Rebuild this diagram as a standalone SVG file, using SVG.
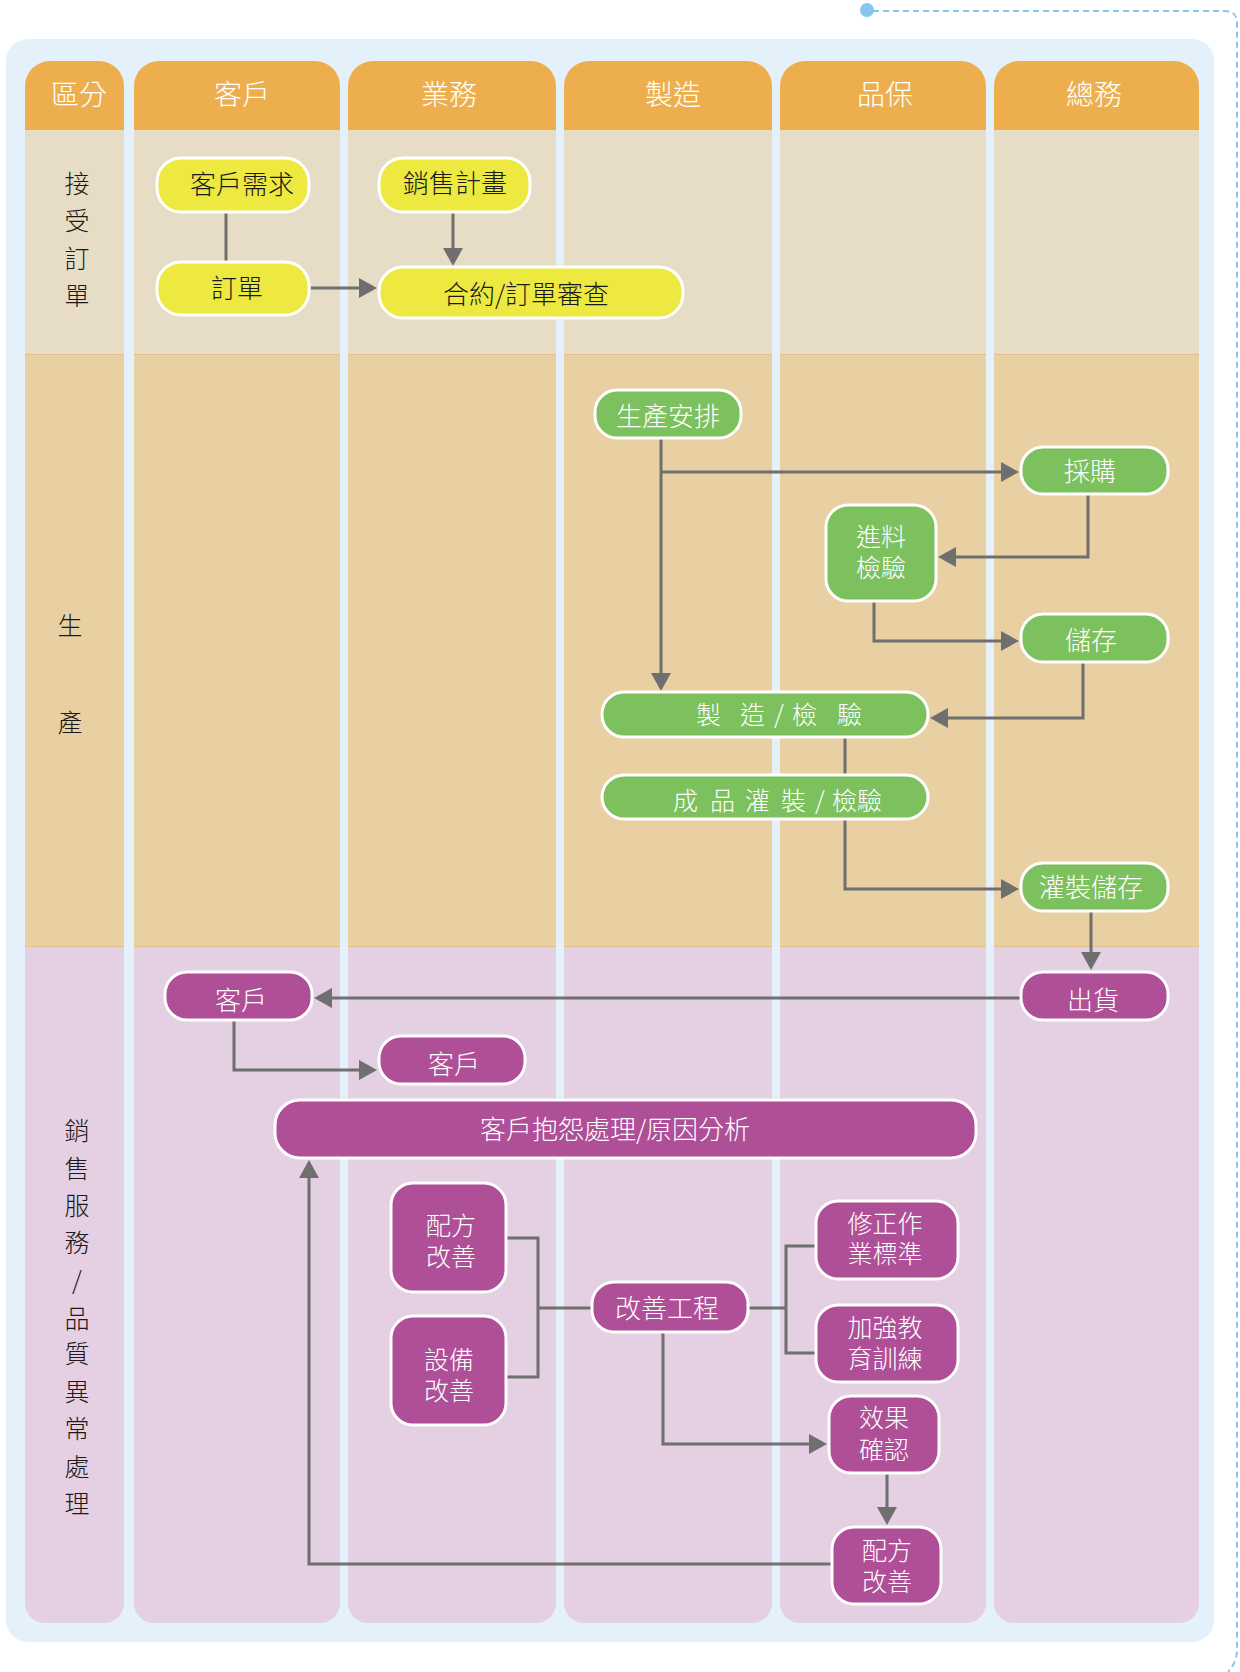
<svg xmlns="http://www.w3.org/2000/svg" width="1240" height="1672" viewBox="0 0 1240 1672">
<style>
.hdr{fill:#EDAF4D}
.r1{fill:#E7DDC6}
.r2{fill:#E8D0A2}
.r3{fill:#E5CFE3}
.sep{stroke:#E3C08C;stroke-width:1}
text{font-family:"Noto Sans CJK TC","Noto Sans CJK SC",sans-serif;font-weight:300;dominant-baseline:central}
.ht{font-size:28px;fill:#fff;text-anchor:middle}
.lb{font-size:25px;fill:#1a1a1a;text-anchor:middle}
.ny{fill:#EDE940;stroke:#fff;stroke-width:3}
.ng{fill:#7DC15E;stroke:#fff;stroke-width:3}
.np{fill:#AE4F97;stroke:#fff;stroke-width:3}
.tk{font-size:26px;fill:#1a1a1a;text-anchor:middle}
.tw{font-size:26px;fill:#fff;text-anchor:middle}
.tw2{font-size:25px;fill:#fff;text-anchor:middle}
.tws{font-size:25px;fill:#fff}
.ln{fill:none;stroke:#6F6F6F;stroke-width:3}
.ar{marker-end:url(#ah)}
</style>
<defs>
<marker id="ah" viewBox="0 0 18 20" refX="14" refY="10" markerWidth="18" markerHeight="20" markerUnits="userSpaceOnUse" orient="auto">
<path d="M0,0 L18,10 L0,20 Z" fill="#6F6F6F"/>
</marker>
</defs>
<rect width="1240" height="1672" fill="#fff"/>
<g id="deco">
<path d="M873,11 H1225 Q1237,11 1237,23 V1650 Q1237,1662 1228,1672" fill="none" stroke="#86C6EF" stroke-width="2" stroke-dasharray="6 4"/>
<circle cx="867" cy="10" r="7" fill="#86C6EF"/>
</g>
<rect id="panel" x="6" y="39" width="1208" height="1603" rx="22" fill="#E4F1FA"/>
<g id="lanes">
<path class="hdr" d="M25,130 V86 A25,25 0 0 1 50,61 H99 A25,25 0 0 1 124,86 V130 Z"/>
<rect class="r1" x="25" y="130" width="99" height="224"/>
<rect class="r2" x="25" y="354" width="99" height="592"/>
<path class="r3" d="M25,946 H124 V1603 A20,20 0 0 1 104,1623 H45 A20,20 0 0 1 25,1603 Z"/>
<path class="hdr" d="M134,130 V86 A25,25 0 0 1 159,61 H315 A25,25 0 0 1 340,86 V130 Z"/>
<rect class="r1" x="134" y="130" width="206" height="224"/>
<rect class="r2" x="134" y="354" width="206" height="592"/>
<path class="r3" d="M134,946 H340 V1603 A20,20 0 0 1 320,1623 H154 A20,20 0 0 1 134,1603 Z"/>
<path class="hdr" d="M348,130 V86 A25,25 0 0 1 373,61 H531 A25,25 0 0 1 556,86 V130 Z"/>
<rect class="r1" x="348" y="130" width="208" height="224"/>
<rect class="r2" x="348" y="354" width="208" height="592"/>
<path class="r3" d="M348,946 H556 V1603 A20,20 0 0 1 536,1623 H368 A20,20 0 0 1 348,1603 Z"/>
<path class="hdr" d="M564,130 V86 A25,25 0 0 1 589,61 H747 A25,25 0 0 1 772,86 V130 Z"/>
<rect class="r1" x="564" y="130" width="208" height="224"/>
<rect class="r2" x="564" y="354" width="208" height="592"/>
<path class="r3" d="M564,946 H772 V1603 A20,20 0 0 1 752,1623 H584 A20,20 0 0 1 564,1603 Z"/>
<path class="hdr" d="M780,130 V86 A25,25 0 0 1 805,61 H961 A25,25 0 0 1 986,86 V130 Z"/>
<rect class="r1" x="780" y="130" width="206" height="224"/>
<rect class="r2" x="780" y="354" width="206" height="592"/>
<path class="r3" d="M780,946 H986 V1603 A20,20 0 0 1 966,1623 H800 A20,20 0 0 1 780,1603 Z"/>
<path class="hdr" d="M994,130 V86 A25,25 0 0 1 1019,61 H1174 A25,25 0 0 1 1199,86 V130 Z"/>
<rect class="r1" x="994" y="130" width="205" height="224"/>
<rect class="r2" x="994" y="354" width="205" height="592"/>
<path class="r3" d="M994,946 H1199 V1603 A20,20 0 0 1 1179,1623 H1014 A20,20 0 0 1 994,1603 Z"/>
<path class="sep" d="M25,354.5 H124 M134,354.5 H340 M348,354.5 H556 M564,354.5 H772 M780,354.5 H986 M994,354.5 H1199 M25,946.5 H124 M134,946.5 H340 M348,946.5 H556 M564,946.5 H772 M780,946.5 H986 M994,946.5 H1199"/>
<text class="ht" x="79" y="93">區分</text>
<text class="ht" x="242" y="93">客戶</text>
<text class="ht" x="449" y="93">業務</text>
<text class="ht" x="673" y="93">製造</text>
<text class="ht" x="885" y="93">品保</text>
<text class="ht" x="1094" y="93">總務</text>
<text class="lb"><tspan x="77" y="182">接</tspan><tspan x="77" y="219">受</tspan><tspan x="77" y="257">訂</tspan><tspan x="77" y="294">單</tspan></text>
<text class="lb"><tspan x="70" y="624">生</tspan><tspan x="70" y="721">產</tspan></text>
<text class="lb"><tspan x="77" y="1129">銷</tspan><tspan x="77" y="1167">售</tspan><tspan x="77" y="1204">服</tspan><tspan x="77" y="1241">務</tspan><tspan x="77" y="1279">/</tspan><tspan x="77" y="1317">品</tspan><tspan x="77" y="1352">質</tspan><tspan x="77" y="1390">異</tspan><tspan x="77" y="1427">常</tspan><tspan x="77" y="1465">處</tspan><tspan x="77" y="1502">理</tspan></text>
</g>
<g id="connectors">
<path class="ln" d="M226,212 V262"/>
<path class="ln ar" d="M453,212 V262"/>
<path class="ln ar" d="M311,288 H373"/>
<path class="ln ar" d="M661,438 V687"/>
<path class="ln ar" d="M661,472 H1015"/>
<path class="ln ar" d="M1088,494 V557 H942"/>
<path class="ln ar" d="M874,601 V641 H1015"/>
<path class="ln ar" d="M1083,662 V718 H934"/>
<path class="ln" d="M845,737 V775"/>
<path class="ln ar" d="M845,819 V889 H1015"/>
<path class="ln ar" d="M1091,911 V966"/>
<path class="ln ar" d="M1021,998 H318"/>
<path class="ln ar" d="M234,1020 V1070 H373"/>
<path class="ln" d="M506,1238 H538 V1377 H506 M538,1308 H592"/>
<path class="ln" d="M748,1308 H786 M816,1246 H786 V1353 H816"/>
<path class="ln ar" d="M663,1332 V1444 H823"/>
<path class="ln ar" d="M887,1473 V1521"/>
<path class="ln ar" d="M832,1564 H309 V1164"/>
</g>
<g id="n-kehu-xuqiu"><rect class="ny" x="157" y="158" width="152" height="54" rx="24"/><text class="tk" x="242" y="182">客戶需求</text></g>
<g id="n-dingdan"><rect class="ny" x="157" y="262" width="152" height="53" rx="24"/><text class="tk" x="237" y="286">訂單</text></g>
<g id="n-xiaoshou"><rect class="ny" x="379" y="158" width="151" height="54" rx="24"/><text class="tk" x="455" y="181">銷售計畫</text></g>
<g id="n-heyue"><rect class="ny" x="379" y="267" width="304" height="51" rx="24"/><text class="tk" x="526" y="292">合約/訂單審查</text></g>
<g id="n-shengchan"><rect class="ng" x="595" y="390" width="146" height="48" rx="22"/><text class="tw" x="668" y="414">生產安排</text></g>
<g id="n-caigou"><rect class="ng" x="1021" y="447" width="147" height="47" rx="22"/><text class="tw" x="1090" y="469">採購</text></g>
<g id="n-jinliao"><rect class="ng" x="826" y="505" width="110" height="96" rx="22"/><text class="tw2"><tspan x="881" y="535">進料</tspan><tspan x="881" y="566">檢驗</tspan></text></g>
<g id="n-chucun"><rect class="ng" x="1021" y="614" width="147" height="48" rx="22"/><text class="tw" x="1091" y="638">儲存</text></g>
<g id="n-zhizao"><rect class="ng" x="602" y="692" width="326" height="45" rx="22"/><text class="tws" y="713"><tspan x="696">製</tspan><tspan x="740">造</tspan><tspan x="774">/</tspan><tspan x="792">檢</tspan><tspan x="837">驗</tspan></text></g>
<g id="n-chengpin"><rect class="ng" x="602" y="775" width="326" height="44" rx="22"/><text class="tws" y="799"><tspan x="673">成</tspan><tspan x="710">品</tspan><tspan x="745">灌</tspan><tspan x="781">裝</tspan><tspan x="815">/</tspan><tspan x="832">檢驗</tspan></text></g>
<g id="n-guanzhuang"><rect class="ng" x="1021" y="863" width="147" height="48" rx="22"/><text class="tw" x="1091" y="885">灌裝儲存</text></g>
<g id="n-kehu1"><rect class="np" x="165" y="972" width="147" height="48" rx="22"/><text class="tw" x="241" y="998">客戶</text></g>
<g id="n-chuhuo"><rect class="np" x="1021" y="972" width="147" height="48" rx="22"/><text class="tw" x="1093" y="998">出貨</text></g>
<g id="n-kehu2"><rect class="np" x="379" y="1036" width="146" height="48" rx="22"/><text class="tw" x="454" y="1062">客戶</text></g>
<g id="n-baoyuan"><rect class="np" x="275" y="1100" width="701" height="58" rx="25"/><text class="tw" x="615" y="1127">客戶抱怨處理/原因分析</text></g>
<g id="n-peifang1"><rect class="np" x="391" y="1183" width="115" height="109" rx="22"/><text class="tw2"><tspan x="451" y="1224">配方</tspan><tspan x="451" y="1255">改善</tspan></text></g>
<g id="n-shebei"><rect class="np" x="391" y="1316" width="115" height="109" rx="22"/><text class="tw2"><tspan x="449" y="1358">設備</tspan><tspan x="449" y="1389">改善</tspan></text></g>
<g id="n-gaishan"><rect class="np" x="592" y="1282" width="156" height="50" rx="22"/><text class="tw" x="667" y="1306">改善工程</text></g>
<g id="n-xiuzheng"><rect class="np" x="816" y="1201" width="142" height="78" rx="22"/><text class="tw2"><tspan x="885" y="1222">修正作</tspan><tspan x="885" y="1252">業標準</tspan></text></g>
<g id="n-jiaoyu"><rect class="np" x="816" y="1305" width="142" height="77" rx="22"/><text class="tw2"><tspan x="885" y="1326">加強教</tspan><tspan x="885" y="1357">育訓練</tspan></text></g>
<g id="n-xiaoguo"><rect class="np" x="829" y="1396" width="110" height="77" rx="22"/><text class="tw2"><tspan x="884" y="1416">效果</tspan><tspan x="884" y="1448">確認</tspan></text></g>
<g id="n-peifang2"><rect class="np" x="832" y="1527" width="109" height="77" rx="22"/><text class="tw2"><tspan x="887" y="1549">配方</tspan><tspan x="887" y="1580">改善</tspan></text></g>
</svg>
